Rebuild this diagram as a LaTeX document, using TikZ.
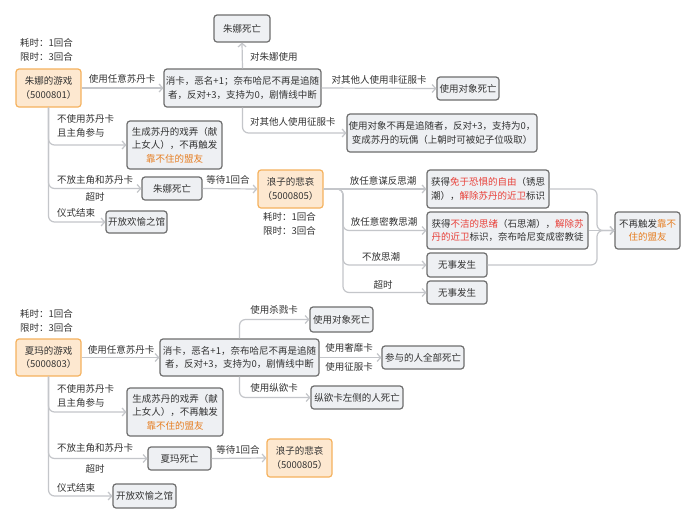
\documentclass[tikz,border=0pt]{standalone}
\usepackage{fontspec}
\setmainfont{Noto Sans CJK SC}
\usetikzlibrary{arrows.meta}
\definecolor{boxfill}{HTML}{EEF0F3}
\definecolor{boxdraw}{HTML}{6E6E6E}
\definecolor{ofill}{HTML}{FDE8D0}
\definecolor{odraw}{HTML}{F5B25E}
\definecolor{conncol}{HTML}{C4C6CA}
\definecolor{txt}{HTML}{333333}
\definecolor{redtxt}{HTML}{E8413A}
\definecolor{orgtxt}{HTML}{E67E22}
\tikzset{
  every node/.style={font=\fontsize{9.5}{13.5}\selectfont, text=txt},
  gbox/.style={draw=boxdraw, fill=boxfill, line width=1.2pt, rounded corners=3pt, align=center, inner sep=0pt},
  obox/.style={draw=odraw, fill=ofill, line width=1.2pt, rounded corners=3pt, align=center, inner sep=0pt},
  conn/.style={draw=conncol, line width=1.2pt, rounded corners=6pt, -{Straight Barb[length=3.5pt,width=8pt]}},
  plain/.style={draw=conncol, line width=1.2pt, rounded corners=6pt},
  lbl/.style={inner sep=0pt, align=left},
}
\newcommand{\rt}[1]{\textcolor{redtxt}{#1}}
\newcommand{\ot}[1]{\textcolor{orgtxt}{#1}}
\begin{document}
\begin{tikzpicture}[x=1pt,y=-1pt]
\fill[white] (0,0) rectangle (696,523);
\useasboundingbox (0,0) rectangle (696,523);

% ---------- top part ----------
\node[lbl, anchor=west] (t1) at (20,50) {耗时：1回合\\限时：3回合};
\node[obox, minimum width=65pt, minimum height=38pt] (jg1) at (48.5,88) {朱娜的游戏\\（5000801）};
\node[gbox, minimum width=157pt, minimum height=38pt] (c1) at (242.5,88) {消卡，恶名+1；奈布哈尼不再是追随\\者，反对+3，支持为0，剧情线中断};
\node[gbox, minimum width=56pt, minimum height=27pt] (zd1) at (242,28.5) {朱娜死亡};
\node[gbox, minimum width=62pt, minimum height=23pt] (od1) at (468,88.5) {使用对象死亡};
\node[gbox, minimum width=190pt, minimum height=38pt] (zf1) at (442,133) {使用对象不再是追随者，反对+3，支持为0，\\变成苏丹的玩偶（上朝时可被妃子位吸取）};
\node[gbox, minimum width=95pt, minimum height=48pt] (xl1) at (174.5,145) {生成苏丹的戏弄（献\\上女人），不再触发\\\ot{靠不住的盟友}};
\node[gbox, minimum width=60pt, minimum height=23pt] (zd2) at (172,188.5) {朱娜死亡};
\node[obox, minimum width=65pt, minimum height=38pt] (lz1) at (290.5,189) {浪子的悲哀\\（5000805）};
\node[lbl, anchor=west] (t2) at (263,224) {耗时：1回合\\限时：3回合};
\node[gbox, minimum width=61pt, minimum height=22pt] (kf1) at (136.5,222) {开放欢愉之馆};
\node[gbox, minimum width=122pt, minimum height=38pt, align=left] (h1) at (488,189) {获得\rt{免于恐惧的自由}（锈思\\潮），\rt{解除苏丹的近卫}标识};
\node[gbox, minimum width=161pt, minimum height=37pt, align=left] (h2) at (507.5,230.5) {获得\rt{不洁的思绪}（石思潮），\rt{解除苏}\\\rt{丹的近卫}标识，奈布哈尼变成密教徒};
\node[gbox, minimum width=60pt, minimum height=24pt] (w1) at (457,265) {无事发生};
\node[gbox, minimum width=60pt, minimum height=23pt] (w2) at (457,292.5) {无事发生};
\node[gbox, minimum width=65pt, minimum height=37pt] (nr) at (647.5,230.5) {不再触发\ot{靠不}\\\ot{住的盟友}};

\draw[conn] (jg1.east) -- (c1.west);
\node[lbl] (l1) at (122,79) {使用任意苏丹卡};
\draw[conn] (c1.north) -- (zd1.south);
\node[lbl, anchor=west] (l2) at (250,57) {对朱娜使用};
\draw[conn] (c1.east) -- (od1.west);
\node[lbl] (l3) at (379,80) {对其他人使用非征服卡};
\draw[conn] (c1.south) |- (zf1.west);
\node[lbl, anchor=west] (l4) at (250,122) {对其他人使用征服卡};

\draw[conn] (jg1.south) |- (xl1.west);
\draw[conn] (jg1.south) |- (zd2.west);
\draw[conn] (jg1.south) |- (kf1.west);
\node[lbl, anchor=west] (l5) at (57,126) {不使用苏丹卡\\且主角参与};
\node[lbl, anchor=west] (l6) at (57,180) {不放主角和苏丹卡};
\node[lbl] (l7) at (95,197) {超时};
\node[lbl, anchor=west] (l8) at (57,213) {仪式结束};

\draw[conn] (zd2.east) -- (lz1.west);
\node[lbl] (l9) at (228,180) {等待1回合};

\coordinate (lt) at (343,189);
\draw[conn] (lz1.east) -- (h1.west);
\draw[conn] (lz1.east) -- (lt) |- (h2.west);
\draw[conn] (lz1.east) -- (lt) |- (w1.west);
\draw[conn] (lz1.east) -- (lt) |- (w2.west);
\node[lbl] (l10) at (383,181) {放任意谋反思潮};
\node[lbl] (l11) at (384,222) {放任意密教思潮};
\node[lbl] (l12) at (381,257) {不放思潮};
\node[lbl] (l13) at (383,285) {超时};

\coordinate (m1) at (597,189);
\coordinate (m2) at (597,265);
\draw[conn] (h1.east) -- (m1) |- (nr.west);
\draw[conn] (h2.east) -- (nr.west);
\draw[conn] (w1.east) -- (m2) |- (nr.west);

% ---------- bottom part ----------
\node[lbl, anchor=west] (t3) at (20,321) {耗时：1回合\\限时：3回合};
\node[obox, minimum width=65pt, minimum height=37pt] (jg2) at (48.5,357.5) {夏玛的游戏\\（5000803）};
\node[gbox, minimum width=159pt, minimum height=37pt] (c2) at (239.5,357.5) {消卡，恶名+1，奈布哈尼不再是追随\\者，反对+3，支持为0，剧情线中断};
\node[gbox, minimum width=63pt, minimum height=25pt] (od2) at (341.5,319.5) {使用对象死亡};
\node[gbox, minimum width=82pt, minimum height=23pt] (qb) at (423,357.5) {参与的人全部死亡};
\node[gbox, minimum width=92pt, minimum height=23pt] (zy) at (357,397.5) {纵欲卡左侧的人死亡};
\node[gbox, minimum width=96pt, minimum height=48pt] (xl2) at (175,412) {生成苏丹的戏弄（献\\上女人），不再触发\\\ot{靠不住的盟友}};
\node[gbox, minimum width=63pt, minimum height=23pt] (xm) at (179.5,458.5) {夏玛死亡};
\node[obox, minimum width=65pt, minimum height=38pt] (lz2) at (299.5,458) {浪子的悲哀\\（5000805）};
\node[gbox, minimum width=63pt, minimum height=24pt] (kf2) at (144.5,496) {开放欢愉之馆};

\draw[conn] (jg2.east) -- (c2.west);
\node[lbl] (l14) at (121,350) {使用任意苏丹卡};
\draw[conn] (c2.north) |- (od2.west);
\node[lbl] (l15) at (274,310) {使用杀戮卡};
\draw[conn] (c2.east) -- (qb.west);
\node[lbl] (l16) at (349,348) {使用奢靡卡};
\node[lbl] (l17) at (349,367) {使用征服卡};
\draw[conn] (c2.south) |- (zy.west);
\node[lbl] (l18) at (274,388) {使用纵欲卡};

\draw[conn] (jg2.south) |- (xl2.west);
\draw[conn] (jg2.south) |- (xm.west);
\draw[conn] (jg2.south) |- (kf2.west);
\node[lbl, anchor=west] (l19) at (57,396) {不使用苏丹卡\\且主角参与};
\node[lbl, anchor=west] (l20) at (57,448) {不放主角和苏丹卡};
\node[lbl] (l21) at (95,469) {超时};
\node[lbl, anchor=west] (l22) at (57,488) {仪式结束};

\draw[conn] (xm.east) -- (lz2.west);
\node[lbl] (l23) at (238,450) {等待1回合};
\end{tikzpicture}
\end{document}
